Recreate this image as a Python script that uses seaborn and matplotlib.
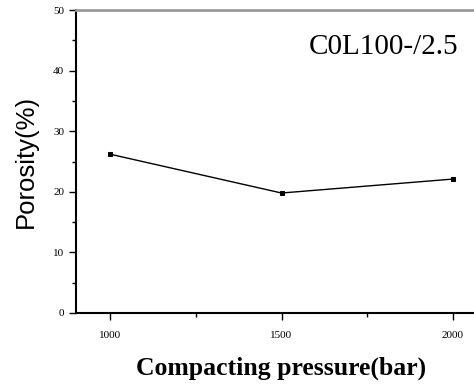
import matplotlib
matplotlib.use("Agg")
import matplotlib.pyplot as plt
import seaborn as sns
import pandas as pd
from matplotlib.ticker import MultipleLocator

pressure = [1000, 1500, 2000]
porosity = [26.2, 19.8, 22.1]
label_text = "C0L100-/2.5"

sns.set_style("white")
plt.rcParams["text.color"] = "black"
plt.rcParams["axes.labelcolor"] = "black"
plt.rcParams["xtick.color"] = "black"
plt.rcParams["ytick.color"] = "black"
df = pd.DataFrame({"pressure": pressure, "porosity": porosity})

W, H = 474, 385
fig = plt.figure(figsize=(W/100, H/100), dpi=100)
x0, x1 = 76, 487
y0, y1 = 10, 313
ax = fig.add_axes([x0/W, 1 - y1/H, (x1-x0)/W, (y1-y0)/H])

sns.lineplot(data=df, x="pressure", y="porosity", ax=ax, color="black",
             lw=1.0, marker="s", markersize=3.2, markeredgecolor="black")

ax.set_xlim(900, 2100)
ax.set_ylim(0, 50)
ax.xaxis.set_major_locator(MultipleLocator(500))
ax.xaxis.set_minor_locator(MultipleLocator(250))
ax.yaxis.set_major_locator(MultipleLocator(10))
ax.yaxis.set_minor_locator(MultipleLocator(5))
ax.tick_params(which="both", direction="out", left=True, bottom=True, color="black", width=1)
ax.tick_params(which="major", length=5, labelsize=8)
ax.tick_params(which="minor", length=3)
ax.tick_params(axis="x", pad=8)
for lab in ax.get_xticklabels() + ax.get_yticklabels():
    lab.set_fontfamily("Liberation Serif")

for s in ["left", "bottom"]:
    ax.spines[s].set_color("black")
    ax.spines[s].set_linewidth(1.5)
ax.spines["top"].set_color("#999999")
ax.spines["top"].set_linewidth(2)
ax.spines["right"].set_visible(False)

ax.set_xlabel("Compacting pressure(bar)", fontsize=18.5, fontweight="bold",
              fontfamily="Liberation Serif", labelpad=12)
ax.set_ylabel("Porosity(%)", fontsize=18.5, fontfamily="Liberation Sans", labelpad=11)
fig.text(309/W, 1 - 54/H, label_text, fontsize=21, fontfamily="Liberation Serif")

fig.savefig("out.png", dpi=100)
